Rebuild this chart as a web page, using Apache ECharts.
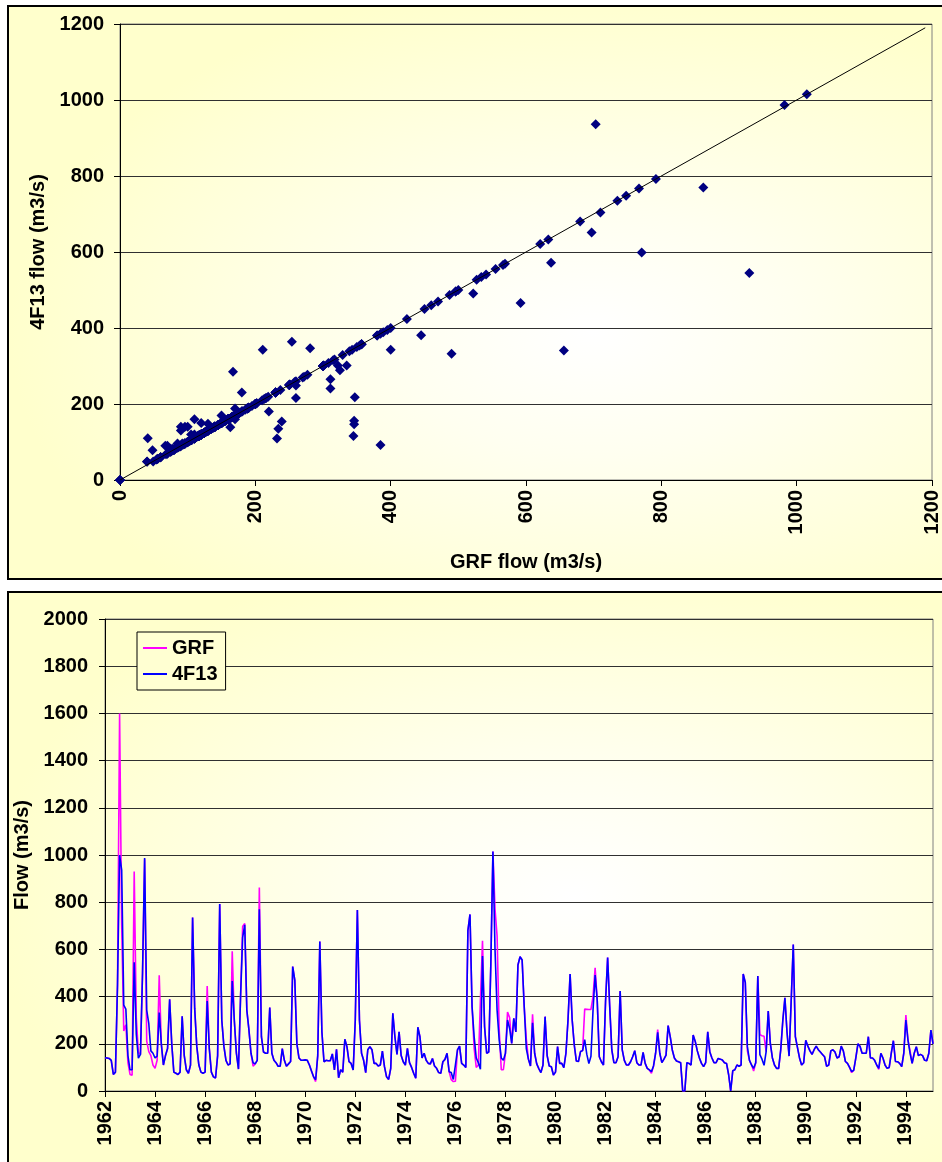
<!DOCTYPE html>
<html><head><meta charset="utf-8">
<script src="https://cdn.jsdelivr.net/npm/echarts@6/dist/echarts.min.js"></script>
<style>
html,body{margin:0;padding:0;background:#fff;}
#wrap{position:relative;width:942px;height:1162px;overflow:hidden;background:#fff;}
.panel{position:absolute;box-sizing:border-box;border:2px solid #000;}
#p1{left:7px;top:5px;width:945px;height:575px;background:radial-gradient(ellipse 62% 62% at 62% 57%, #ffffff 0%, #fffff0 35%, #ffffcc 100%);}
#p2{left:7px;top:591px;width:945px;height:590px;background:radial-gradient(ellipse 62% 62% at 60% 52%, #ffffff 0%, #fffff0 35%, #ffffcc 100%);}
#chart{position:absolute;left:0;top:0;width:942px;height:1162px;}
</style>
</head>
<body>
<div id="wrap">
  <div class="panel" id="p1"></div>
  <div class="panel" id="p2"></div>
  <div id="chart"></div>
</div>
<script>
// Monthly flows, Jan 1962 onward (m3/s)
const startYear = 1962;
const F13 = [
141,140,138,130,70,80,450,1000,936,364,
347,150,90,90,545,241,139,155,500,987,
343,285,170,160,140,148,332,200,110,150,
180,389,200,80,75,70,80,317,150,90,
75,110,735,350,190,110,80,75,80,381,
180,80,60,55,150,792,300,190,130,110,
115,466,300,160,93,400,651,704,343,260,
160,120,115,130,770,230,165,160,160,354,
160,130,120,105,105,180,130,105,115,125,
527,470,200,140,130,130,132,130,110,85,
60,48,150,633,250,124,130,128,128,157,
89,177,56,90,80,219,188,124,117,89,
300,767,300,160,130,78,175,188,175,117,
117,106,110,169,103,60,49,96,329,230,
155,251,150,124,110,181,120,100,75,54,
270,230,140,160,130,117,115,138,106,96,
78,75,124,134,160,82,78,49,110,174,
190,117,110,100,680,748,357,230,140,120,
92,572,272,160,165,541,1015,599,341,216,
140,130,160,301,265,202,308,250,534,569,
555,357,180,135,106,289,160,115,95,78,
110,315,150,106,103,68,80,188,117,117,
99,160,301,496,301,195,127,125,167,171,
218,156,116,147,343,491,385,145,124,110,
380,566,357,174,120,120,145,424,174,130,
110,110,124,145,171,120,110,110,164,117,
96,89,82,106,160,249,160,120,135,152,
277,230,174,140,127,124,120,0,0,120,
117,110,237,210,170,140,117,103,120,251,
165,140,120,120,138,135,131,120,117,70,
0,86,90,110,105,110,496,460,188,130,
110,96,120,487,154,135,109,167,339,202,
140,110,96,96,175,300,395,250,148,380,
621,230,185,140,110,120,215,190,170,155,
175,190,175,165,155,145,105,110,170,175,
165,140,145,190,170,125,117,100,82,88,
140,200,190,160,160,160,230,140,140,130,
110,96,160,140,110,96,100,160,213,125,
124,117,103,160,301,216,160,117,160,188,
150,155,150,130,128,160,258,200
];
const GRF = [
141,140,138,130,70,80,450,1600,703,254,
281,120,70,67,930,311,163,155,500,982,
211,167,150,110,96,130,490,200,110,150,
180,389,200,80,75,70,80,317,150,90,
75,110,735,350,190,110,80,75,80,445,
180,80,60,55,150,792,300,190,130,110,
115,592,300,160,93,400,697,710,343,260,
160,105,115,130,862,230,165,160,160,354,
160,130,120,105,105,180,130,105,115,125,
527,470,200,140,130,130,132,130,110,85,
60,40,150,633,250,124,130,128,128,157,
89,177,56,90,80,219,188,124,117,89,
300,767,300,160,130,78,175,188,175,117,
117,106,110,169,103,60,49,96,329,230,
155,251,150,124,110,181,120,100,75,54,
270,230,140,160,130,117,115,138,106,96,
78,75,124,134,160,82,48,40,41,174,
190,117,110,100,680,748,357,180,100,110,
385,637,272,160,165,541,1015,771,656,260,
90,90,160,335,311,202,308,250,534,569,
555,357,220,135,106,325,160,115,95,78,
110,315,150,106,103,68,80,188,117,117,
99,160,301,496,301,195,127,125,167,171,
347,346,345,346,400,522,385,145,124,110,
380,566,357,174,120,120,145,424,174,130,
110,110,124,145,171,120,110,110,164,117,
96,89,75,106,160,260,160,120,135,152,
277,230,174,140,127,124,120,0,0,120,
117,110,237,210,170,140,117,103,120,251,
165,140,120,120,138,135,131,120,117,70,
0,86,90,110,105,110,496,460,170,130,
110,85,120,487,239,234,232,167,339,202,
140,110,96,96,175,300,395,250,148,380,
621,230,185,140,110,120,215,190,170,155,
175,190,175,165,155,145,105,110,170,175,
165,140,145,190,170,125,117,100,78,88,
140,200,190,160,160,160,230,140,140,130,
110,92,160,140,110,96,100,160,213,125,
124,117,103,160,322,216,170,117,160,188,
150,155,150,130,128,160,258,200
];
// 1:1 reference line (GRF, 4F13)
const diagLine = [[0,0],[1190,1190]];
const scatterTicks = [0,200,400,600,800,1000,1200];

// month categories built from the start year
const categories = F13.map((_, i) => (startYear + Math.floor(i/12)) + '-' + String(i%12+1).padStart(2,'0'));
const pairs = GRF.map((g, i) => [g, F13[i]]);

const font = {fontFamily:'"Liberation Sans", Arial, sans-serif', fontWeight:'bold', fontSize:20, color:'#000'};
const plain = v => String(v);
const chart = echarts.init(document.getElementById('chart'), null, {renderer:'canvas'});
chart.setOption({
  animation:false,
  backgroundColor:'transparent',
  grid:[
    {left:120, top:24, width:815, height:456, show:true, borderColor:'#808080', borderWidth:1, backgroundColor:'transparent'},
    {left:105, top:619, width:828, height:472, show:true, borderColor:'#808080', borderWidth:1, backgroundColor:'transparent'}
  ],
  legend:{
    data:['GRF','4F13'], left:137, top:632, orient:'vertical',
    backgroundColor:'#ffffd2', borderColor:'#000', borderWidth:1, borderRadius:0,
    padding:[6,8,6,6], itemGap:6, itemWidth:24, itemHeight:2, icon:'rect',
    textStyle:Object.assign({}, font, {padding:[0,0,0,0]})
  },
  xAxis:[
    {type:'value', gridIndex:0, min:scatterTicks[0], max:scatterTicks[scatterTicks.length-1], interval:200,
     name:'GRF flow (m3/s)', nameLocation:'middle', nameGap:72, nameTextStyle:font,
     axisLine:{show:true, onZero:false, lineStyle:{color:'#000', width:1}},
     axisTick:{show:true, length:6, lineStyle:{color:'#000'}},
     splitLine:{show:false},
     axisLabel:Object.assign({}, font, {rotate:90, margin:10, formatter:plain})},
    {type:'category', gridIndex:1, data:categories, boundaryGap:false,
     axisLine:{show:true, onZero:false, lineStyle:{color:'#000', width:1}},
     axisTick:{show:true, interval:23, length:6, lineStyle:{color:'#000'}},
     splitLine:{show:false},
     axisLabel:Object.assign({}, font, {rotate:90, interval:23, margin:10, formatter:v => v.slice(0,4)})}
  ],
  yAxis:[
    {type:'value', gridIndex:0, min:0, max:1200, interval:200,
     name:'4F13 flow (m3/s)', nameLocation:'middle', nameGap:67, nameTextStyle:font,
     axisLine:{show:true, lineStyle:{color:'#000', width:1}},
     axisTick:{show:true, length:6, lineStyle:{color:'#000'}},
     splitLine:{show:true, lineStyle:{color:'#303030', width:1}},
     axisLabel:Object.assign({}, font, {margin:16, formatter:plain})},
    {type:'value', gridIndex:1, min:0, max:2000, interval:200,
     name:'Flow (m3/s)', nameLocation:'middle', nameGap:55, nameTextStyle:font,
     axisLine:{show:true, lineStyle:{color:'#000', width:1}},
     axisTick:{show:true, length:6, lineStyle:{color:'#000'}},
     splitLine:{show:true, lineStyle:{color:'#303030', width:1}},
     axisLabel:Object.assign({}, font, {margin:17, formatter:plain})}
  ],
  series:[
    {type:'scatter', name:'scatter', xAxisIndex:0, yAxisIndex:0, data:pairs, clip:true,
     symbol:'diamond', symbolSize:10, itemStyle:{color:'#000080', opacity:1}},
    {type:'line', name:'diag', xAxisIndex:0, yAxisIndex:0, data:diagLine, symbol:'none',
     lineStyle:{color:'#000', width:1}, silent:true},
    {type:'line', name:'GRF', xAxisIndex:1, yAxisIndex:1, data:GRF, symbol:'none',
     lineStyle:{color:'#ff00ff', width:1.6}, itemStyle:{color:'#ff00ff'}},
    {type:'line', name:'4F13', xAxisIndex:1, yAxisIndex:1, data:F13, symbol:'none',
     lineStyle:{color:'#0000ff', width:1.6}, itemStyle:{color:'#0000ff'}}
  ]
});
</script>
</body></html>
